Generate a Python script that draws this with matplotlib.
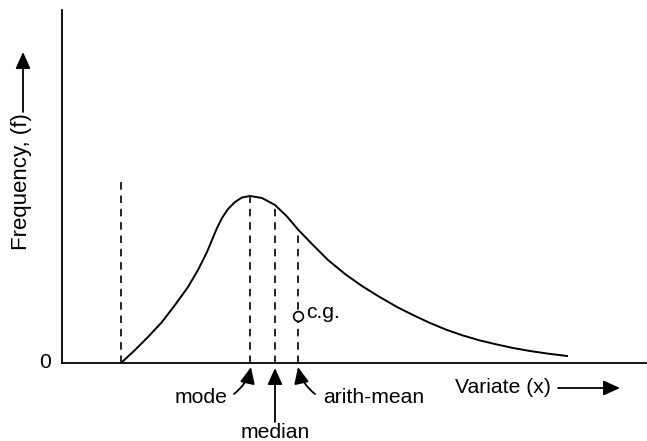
import matplotlib

matplotlib.use("Agg")
import matplotlib.pyplot as plt

plt.rcParams["font.family"] = ["Liberation Sans", "DejaVu Sans"]

# skewed frequency curve (variate, frequency)
curve_x = [59, 73, 86, 100, 113, 126, 136, 145, 150, 155, 160, 166, 173, 180, 188,
           200, 213, 225, 236, 250, 266, 283, 300, 316, 335, 351, 368, 385, 401,
           418, 435, 451, 468, 485, 505]
curve_y = [0, 13, 26, 41, 58, 76, 93, 111, 123, 135, 145, 154, 161, 165.5, 167,
           165, 158, 146.5, 133.5, 119, 103, 89, 77, 67, 56, 48, 40, 33, 27.5,
           22.5, 18.5, 15, 12, 9.5, 7]

origin_x = 59          # start of the distribution
origin_line_top = 186
mode_x, mode_f = 188, 167
median_x, median_f = 213, 158
mean_x, mean_f = 236, 133.5
cg_y = 47

FS = 15.2

fig = plt.figure(figsize=(6.47, 4.41), dpi=100)
ax = fig.add_axes([62 / 647, 78 / 441, 585 / 647, 353 / 441])
ax.set_xlim(0, 585)
ax.set_ylim(0, 353)
for side in ("top", "right"):
    ax.spines[side].set_visible(False)
for side in ("left", "bottom"):
    ax.spines[side].set_linewidth(1.3)
ax.set_xticks([])
ax.set_yticks([])

ax.plot(curve_x, curve_y, color="black", lw=1.4, solid_joinstyle="round")

dash = dict(color="black", lw=1.2, linestyle=(0, (4.5, 3.5)))
ax.plot([origin_x, origin_x], [0, origin_line_top], **dash)
ax.plot([mode_x, mode_x], [0, mode_f], **dash)
ax.plot([median_x, median_x], [0, median_f], **dash)
ax.plot([mean_x, mean_x], [0, mean_f], **dash)

ax.plot([mean_x], [cg_y], marker="o", ms=7, mfc="white", mec="black", mew=1.2, zorder=5)
ax.text(mean_x + 8, cg_y + 4, "c.g.", fontsize=FS, va="center", ha="left")

ax.text(-17, 0, "0", fontsize=FS, ha="center", va="center", clip_on=False)

head = dict(arrowstyle="-|>,head_length=1.0,head_width=0.45", mutation_scale=10,
            color="black", lw=1.3, shrinkA=0, shrinkB=0)
ax.annotate("", xy=(mode_x + 1, -4), xytext=(mode_x - 16, -31), annotation_clip=False,
            arrowprops=dict(connectionstyle="arc3,rad=0.18", **head))
ax.text(mode_x - 23, -40, "mode", fontsize=FS, ha="right", va="baseline")
ax.annotate("", xy=(median_x, -5), xytext=(median_x, -59), annotation_clip=False,
            arrowprops=dict(**head))
ax.text(median_x, -75, "median", fontsize=FS, ha="center", va="baseline")
ax.annotate("", xy=(mean_x, -4), xytext=(mean_x + 17, -31), annotation_clip=False,
            arrowprops=dict(connectionstyle="arc3,rad=-0.18", **head))
ax.text(mean_x + 25, -40, "arith-mean", fontsize=FS, ha="left", va="baseline")

ax.text(393, -30, "Variate (x)", fontsize=FS, ha="left", va="baseline")
ax.annotate("", xy=(558, -25), xytext=(496, -25), annotation_clip=False,
            arrowprops=dict(**head))

ax.text(-40, 181, "Frequency, (f)", fontsize=16, rotation=90, ha="center", va="center",
        clip_on=False)
ax.annotate("", xy=(-39, 311), xytext=(-39, 251), annotation_clip=False,
            arrowprops=dict(**head))

fig.savefig("out.png", dpi=100)
